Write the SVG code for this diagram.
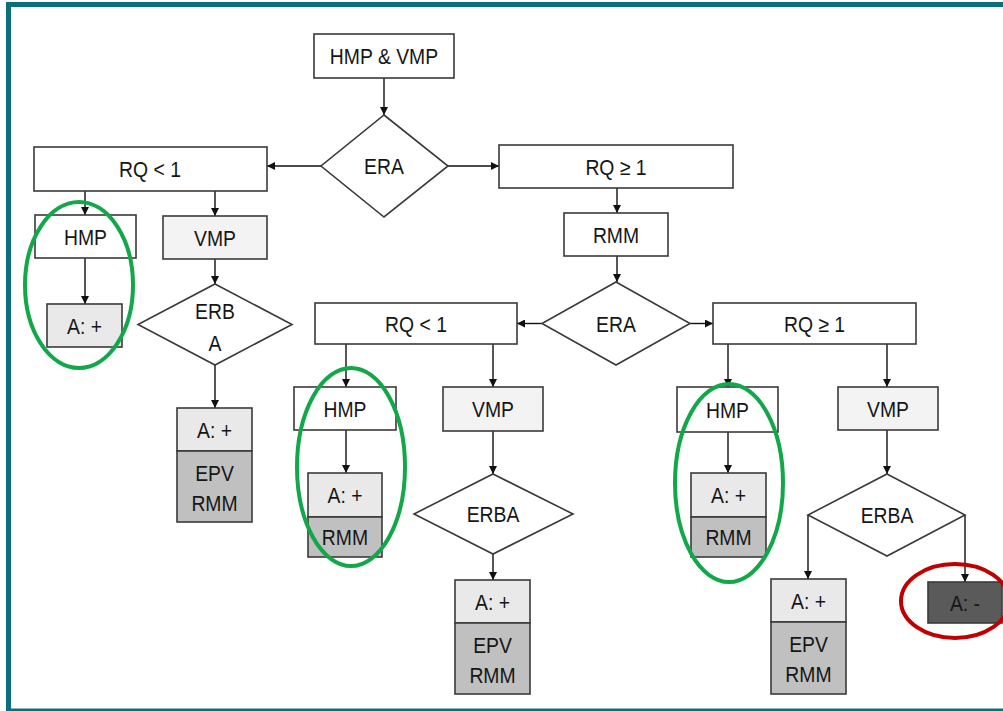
<svg xmlns="http://www.w3.org/2000/svg" width="1003" height="711" viewBox="0 0 1003 711">
  <defs>
    <marker id="arrow" viewBox="0 0 10 10" refX="10" refY="5" markerWidth="8" markerHeight="8" markerUnits="userSpaceOnUse" orient="auto">
      <path d="M0,0 L10,5 L0,10 Z" fill="#111"/>
    </marker>
    <style>
      .box { stroke: #3a3a3a; stroke-width: 1.6; }
      .plain { fill: #ffffff; }
      .pale { fill: #f3f3f3; }
      .light { fill: #e9e9e9; }
      .mid { fill: #c0c0c0; }
      .dark { fill: #5a5a5a; }
      .dia { fill: #ffffff; stroke: #3a3a3a; stroke-width: 1.6; }
      .lbl { font-family: "Liberation Sans", Arial, sans-serif; font-size: 22px; fill: #161616; text-anchor: middle;
             transform-box: fill-box; transform-origin: center; transform: scaleX(0.88); }
      .con { fill: none; stroke: #111; stroke-width: 1.4; marker-end: url(#arrow); }
      .ok { fill: none; stroke: #12a84a; stroke-width: 4; }
      .bad { fill: none; stroke: #c00000; stroke-width: 4; }
    </style>
  </defs>

  <rect width="1003" height="711" fill="#ffffff"/>
  <!-- frame -->
  <path d="M8.5,711 V4.5 H1003" fill="none" stroke="#0b6f7b" stroke-width="5"/>
  <line x1="8" y1="709.8" x2="1003" y2="709.8" stroke="#0b6f7b" stroke-width="2.5"/>

  <!-- connectors -->
  <g id="connectors">
    <path class="con" d="M384,78 V115"/>
    <path class="con" d="M448,166 H499"/>
    <path class="con" d="M321,166 H267"/>
    <path class="con" d="M617,188 V213"/>
    <path class="con" d="M617,256 V282"/>
    <path class="con" d="M542,323.5 H517"/>
    <path class="con" d="M690,323.5 H713"/>
    <path class="con" d="M85,191 V215"/>
    <path class="con" d="M215,191 V216"/>
    <path class="con" d="M85,258 V304"/>
    <path class="con" d="M215,259 V284"/>
    <path class="con" d="M215,365 V408"/>
    <path class="con" d="M346,344 V387"/>
    <path class="con" d="M493,344 V387"/>
    <path class="con" d="M346,430 V473"/>
    <path class="con" d="M493,431 V474"/>
    <path class="con" d="M493,554 V580"/>
    <path class="con" d="M728,344 V387"/>
    <path class="con" d="M887,344 V387"/>
    <path class="con" d="M728,432 V473"/>
    <path class="con" d="M887,430 V474"/>
    <path class="con" d="M808,515 V579"/>
    <path class="con" d="M965,515 V582"/>
  </g>

  <!-- start -->
  <g id="start">
    <rect class="box plain" x="314" y="34" width="140" height="44"/>
    <text class="lbl" x="384" y="64">HMP &amp; VMP</text>
  </g>

  <g id="era-1">
    <polygon class="dia" points="384,115 448,166 384,217 321,166"/>
    <text class="lbl" x="384" y="174">ERA</text>
  </g>

  <!-- left branch -->
  <g id="rq-lt1-a">
    <rect class="box plain" x="34" y="147" width="233" height="44"/>
    <text class="lbl" x="150" y="177">RQ &lt; 1</text>
  </g>
  <g id="hmp-a">
    <rect class="box plain" x="35" y="215" width="101" height="43"/>
    <text class="lbl" x="85.5" y="245">HMP</text>
  </g>
  <g id="vmp-a">
    <rect class="box pale" x="163" y="216" width="104" height="43"/>
    <text class="lbl" x="215" y="246">VMP</text>
  </g>
  <g id="a-plus-a">
    <rect class="box light" x="47" y="304" width="75" height="43"/>
    <text class="lbl" x="84.5" y="334">A: +</text>
  </g>
  <g id="erba-a">
    <polygon class="dia" points="215,284 292,324.5 215,365 138,324.5"/>
    <text class="lbl" x="215" y="319">ERB</text>
    <text class="lbl" x="215" y="351">A</text>
  </g>
  <g id="result-a">
    <rect class="box light" x="177" y="408" width="75" height="43"/>
    <rect class="box mid" x="177" y="451" width="75" height="71"/>
    <text class="lbl" x="214.5" y="438">A: +</text>
    <text class="lbl" x="214.5" y="481">EPV</text>
    <text class="lbl" x="214.5" y="511">RMM</text>
  </g>

  <!-- right branch -->
  <g id="rq-ge1-a">
    <rect class="box plain" x="499" y="145" width="234" height="43"/>
    <text class="lbl" x="616" y="175">RQ ≥ 1</text>
  </g>
  <g id="rmm-a">
    <rect class="box plain" x="564" y="213" width="104" height="43"/>
    <text class="lbl" x="616" y="243">RMM</text>
  </g>
  <g id="era-2">
    <polygon class="dia" points="616,282 690,323.5 616,365 542,323.5"/>
    <text class="lbl" x="616" y="332">ERA</text>
  </g>

  <g id="rq-lt1-b">
    <rect class="box plain" x="315" y="303" width="202" height="41"/>
    <text class="lbl" x="416" y="332">RQ &lt; 1</text>
  </g>
  <g id="hmp-b">
    <rect class="box plain" x="294" y="387" width="102" height="43"/>
    <text class="lbl" x="345" y="417">HMP</text>
  </g>
  <g id="vmp-b">
    <rect class="box pale" x="443" y="387" width="100" height="44"/>
    <text class="lbl" x="493" y="417">VMP</text>
  </g>
  <g id="result-b">
    <rect class="box light" x="308" y="473" width="74" height="44"/>
    <rect class="box mid" x="308" y="517" width="74" height="40"/>
    <text class="lbl" x="345" y="503">A: +</text>
    <text class="lbl" x="345" y="545">RMM</text>
  </g>
  <g id="erba-b">
    <polygon class="dia" points="493,474 573,514 493,554 414,514"/>
    <text class="lbl" x="493" y="522">ERBA</text>
  </g>
  <g id="result-b2">
    <rect class="box light" x="455" y="580" width="75" height="43"/>
    <rect class="box mid" x="455" y="623" width="75" height="71"/>
    <text class="lbl" x="492.5" y="610">A: +</text>
    <text class="lbl" x="492.5" y="653">EPV</text>
    <text class="lbl" x="492.5" y="683">RMM</text>
  </g>

  <g id="rq-ge1-b">
    <rect class="box plain" x="713" y="303" width="203" height="41"/>
    <text class="lbl" x="814.5" y="332">RQ ≥ 1</text>
  </g>
  <g id="hmp-c">
    <rect class="box plain" x="677" y="387" width="101" height="45"/>
    <text class="lbl" x="727.5" y="418">HMP</text>
  </g>
  <g id="vmp-c">
    <rect class="box pale" x="838" y="387" width="100" height="43"/>
    <text class="lbl" x="888" y="417">VMP</text>
  </g>
  <g id="result-c">
    <rect class="box light" x="691" y="473" width="75" height="44"/>
    <rect class="box mid" x="691" y="517" width="75" height="40"/>
    <text class="lbl" x="728.5" y="503">A: +</text>
    <text class="lbl" x="728.5" y="545">RMM</text>
  </g>
  <g id="erba-c">
    <polygon class="dia" points="887,474 965,515 887,556 808,515"/>
    <text class="lbl" x="887" y="523">ERBA</text>
  </g>
  <g id="result-c2">
    <rect class="box light" x="771" y="579" width="75" height="43"/>
    <rect class="box mid" x="771" y="622" width="75" height="72"/>
    <text class="lbl" x="808.5" y="609">A: +</text>
    <text class="lbl" x="808.5" y="652">EPV</text>
    <text class="lbl" x="808.5" y="682">RMM</text>
  </g>
  <g id="a-minus">
    <rect class="box dark" x="928" y="582" width="74" height="41"/>
    <text class="lbl" x="965" y="611">A: -</text>
  </g>

  <!-- highlight rings -->
  <g id="highlights">
    <ellipse class="ok" cx="79" cy="285" rx="54" ry="83"/>
    <ellipse class="ok" cx="351" cy="467" rx="54" ry="99"/>
    <ellipse class="ok" cx="729" cy="483" rx="54" ry="99"/>
    <ellipse class="bad" cx="955" cy="601" rx="54" ry="37"/>
  </g>
</svg>
